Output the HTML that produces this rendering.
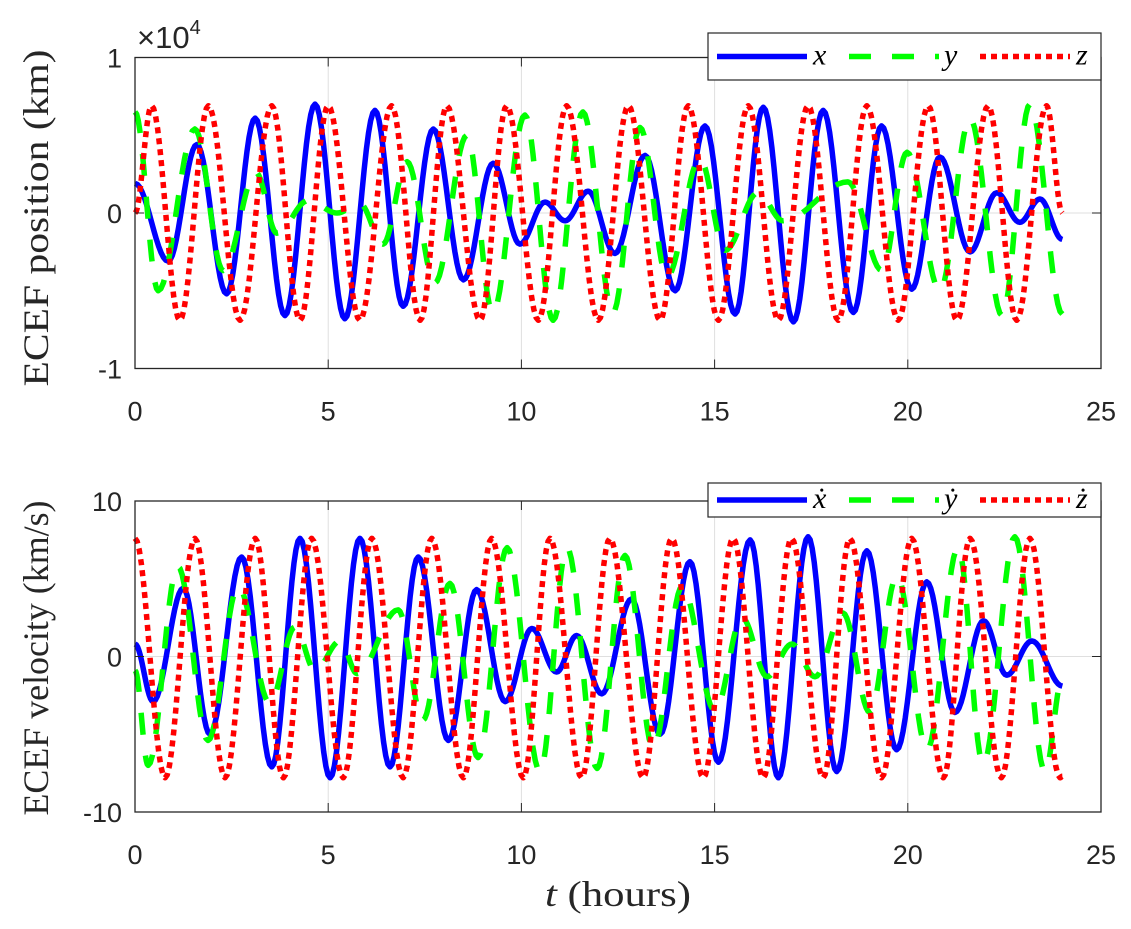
<!DOCTYPE html>
<html><head><meta charset="utf-8">
<style>
html,body{margin:0;padding:0;background:#fff;}
svg{display:block;}
.tk{font-family:"Liberation Sans",sans-serif;font-size:27px;fill:#262626;}
.lbl{font-family:"Liberation Serif",serif;font-size:36px;fill:#262626;}
.leg{font-family:"Liberation Serif",serif;font-style:italic;font-size:30px;fill:#000;}
</style></head>
<body>
<svg id="chart" width="1131" height="929" viewBox="0 0 1131 929" xmlns="http://www.w3.org/2000/svg">
  <g id="g-top"></g>
  <g id="g-bot"></g>
  <text x="137" y="48" style="font-family:'Liberation Sans',sans-serif;font-size:31px;fill:#262626">×10<tspan dy="-14" style="font-size:20px">4</tspan></text>
  <text class="lbl" transform="translate(48,218) rotate(-90)" text-anchor="middle" textLength="337" lengthAdjust="spacingAndGlyphs">ECEF position (km)</text>
  <text class="lbl" transform="translate(48,658) rotate(-90)" text-anchor="middle" textLength="315" lengthAdjust="spacingAndGlyphs">ECEF velocity (km/s)</text>
  <text class="lbl" x="618" y="906" text-anchor="middle" textLength="146" lengthAdjust="spacingAndGlyphs"><tspan font-style="italic">t</tspan> (hours)</text>
</svg>
<script>
// ---- data: position (units of 1e4 km), extrema ----
const posXT = [0,0.86,1.60,2.37,3.11,3.88,4.66,5.43,6.21,6.94,7.72,8.50,9.27,9.96,10.61,11.13,11.73,12.42,13.20,13.98,14.75,15.53,16.26,17.04,17.81,18.59,19.32,20.10,20.83,21.61,22.30,22.90,23.42,24.0];
const posXV = [0.19,-0.31,0.44,-0.52,0.61,-0.66,0.70,-0.68,0.66,-0.60,0.54,-0.43,0.32,-0.20,0.07,-0.05,0.14,-0.26,0.37,-0.50,0.56,-0.65,0.68,-0.70,0.66,-0.64,0.56,-0.49,0.36,-0.25,0.13,-0.06,0.09,-0.17];
const posYT = [0,0.60,1.55,2.28,3.13,3.67,4.48,5.23,5.82,6.42,7.04,7.76,8.59,9.26,10.09,10.82,11.59,12.37,13.07,13.77,14.62,15.27,16.12,16.77,18.45,19.33,19.98,20.83,21.61,22.44,23.16,24.0];
const posYV = [0.65,-0.50,0.54,-0.37,0.26,-0.13,0.08,0.0,0.06,-0.20,0.33,-0.45,0.50,-0.64,0.63,-0.69,0.65,-0.64,0.55,-0.41,0.35,-0.24,0.13,-0.05,0.20,-0.37,0.39,-0.50,0.61,-0.66,0.70,-0.65];
const posZT = [0,0.43,1.16,1.90,2.72,3.54,4.27,5.00,5.82,6.64,7.38,8.07,8.93,9.62,10.44,11.17,11.99,12.77,13.59,14.32,15.10,15.87,16.65,17.42,18.20,18.94,19.75,20.53,21.27,22.08,22.82,23.59,24.0];
const posZV = [0,0.69,-0.69,0.69,-0.69,0.69,-0.69,0.69,-0.69,0.69,-0.69,0.69,-0.69,0.69,-0.69,0.69,-0.69,0.69,-0.69,0.69,-0.69,0.69,-0.69,0.69,-0.69,0.69,-0.69,0.69,-0.69,0.69,-0.69,0.69,0];
// ---- data: velocity (km/s) ----
const velXT = [0,0.47,1.25,1.94,2.76,3.54,4.27,5.05,5.82,6.60,7.33,8.11,8.84,9.58,10.27,10.91,11.43,12.08,12.85,13.59,14.36,15.10,15.92,16.65,17.42,18.16,18.94,19.71,20.49,21.22,21.96,22.56,23.21,24.0];
const velXV = [0.8,-2.9,4.4,-5.0,6.4,-7.1,7.6,-7.8,7.6,-7.1,6.4,-5.4,4.3,-2.9,1.8,-1.0,1.35,-2.4,3.7,-5.0,6.1,-6.8,7.5,-7.8,7.7,-7.4,6.8,-6.0,4.8,-3.6,2.3,-1.2,1.0,-1.9];
const velYT = [0,0.34,1.11,1.89,2.67,3.49,4.14,4.66,5.31,5.75,6.81,7.45,8.15,8.88,9.63,10.48,11.18,11.96,12.68,13.41,14.16,15.01,15.71,16.36,17.00,17.60,18.32,19.02,19.72,20.50,21.30,21.95,22.77,23.55,24.0];
const velYV = [-0.9,-7.0,5.8,-5.4,4.5,-3.0,1.9,-0.9,1.0,-1.1,3.0,-4.1,4.7,-6.5,7.0,-7.4,7.0,-7.2,6.5,-5.9,4.5,-3.5,2.5,-1.3,0.8,-1.3,2.8,-3.6,5.2,-6.0,7.0,-6.9,7.7,-7.4,-1.4];
const velZT = [0,0.78,1.55,2.33,3.11,3.84,4.57,5.39,6.13,6.94,7.68,8.50,9.23,10.05,10.74,11.56,12.29,13.15,13.89,14.71,15.48,16.26,16.99,17.81,18.50,19.32,20.10,20.92,21.61,22.42,23.16,23.94,24.0];
const velZV = [7.6,-7.8,7.6,-7.8,7.6,-7.8,7.6,-7.8,7.6,-7.8,7.6,-7.8,7.6,-7.8,7.6,-7.8,7.6,-7.8,7.6,-7.8,7.6,-7.8,7.6,-7.8,7.6,-7.8,7.6,-7.8,7.6,-7.8,7.6,-7.8,-7.7];
const xTicks = [0,5,10,15,20,25];
const posTicks = [1,0,-1];
const posTickLabels = ["1","0","-1"];
const velTicks = [10,0,-10];
const velTickLabels = ["10","0","-10"];

const NS = "http://www.w3.org/2000/svg";
const L = 135, R = 1101;
function xs(t){ return L + (t/25)*(R-L); }
const TOP = {y0:57.5, y1:368.5, min:-1, max:1};
const BOT = {y0:501, y1:812, min:-10, max:10};
function ysF(ax){ return v => ax.y1 - (v-ax.min)/(ax.max-ax.min)*(ax.y1-ax.y0); }

function mk(tag, attrs, parent){
  const e = document.createElementNS(NS, tag);
  for (const k in attrs) e.setAttribute(k, attrs[k]);
  parent.appendChild(e); return e;
}
function curve(T, V, ys){
  let d = "M" + xs(T[0]).toFixed(2) + "," + ys(V[0]).toFixed(2);
  for (let i=0;i<T.length-1;i++){
    for (let s=1;s<=14;s++){
      const f = s/14, w = (1-Math.cos(Math.PI*f))/2;
      const t = T[i] + (T[i+1]-T[i])*f, v = V[i] + (V[i+1]-V[i])*w;
      d += " L" + xs(t).toFixed(2) + "," + ys(v).toFixed(2);
    }
  }
  return d;
}

function drawAxes(g, ax, ticks, tickLabels, series, legLabels, legY, isTop){
  const ys = ysF(ax);
  mk("rect",{x:L,y:ax.y0,width:R-L,height:ax.y1-ax.y0,fill:"#fff"},g);
  xTicks.forEach(t=>{
    const ln = mk("line",{x1:xs(t),x2:xs(t),y1:ax.y0,y2:ax.y1,stroke:"#dfdfdf","stroke-width":1},g);
    
    
  });
  ticks.forEach(v=>{
    const ln = mk("line",{x1:L,x2:R,y1:ys(v),y2:ys(v),stroke:"#dfdfdf","stroke-width":1},g);
    
    
  });
  const styles = [
    {stroke:"#0000ff","stroke-width":5.5},
    {stroke:"#00ff00","stroke-width":5.5,"stroke-dasharray":"22 21"},
    {stroke:"#ff0000","stroke-width":5.5,"stroke-dasharray":"6 5"}
  ];
  const names = ["x","y","z"];
  series.forEach((s,i)=>{
    const p = mk("path",Object.assign({d:curve(s[0],s[1],ys),fill:"none","stroke-linejoin":"round"},styles[i]),g);
    
    
  });
  mk("rect",{x:L,y:ax.y0,width:R-L,height:ax.y1-ax.y0,fill:"none",stroke:"#262626","stroke-width":1.3},g);
  xTicks.forEach(t=>{
    mk("line",{x1:xs(t),x2:xs(t),y1:ax.y1,y2:ax.y1-9,stroke:"#262626","stroke-width":1},g);
    mk("line",{x1:xs(t),x2:xs(t),y1:ax.y0,y2:ax.y0+9,stroke:"#262626","stroke-width":1},g);
    const tx = mk("text",{x:xs(t),y:ax.y1+52,"text-anchor":"middle",class:"tk"},g);
    
    
    tx.textContent = String(t);
  });
  ticks.forEach((v,i)=>{
    mk("line",{x1:L,x2:L+9,y1:ys(v),y2:ys(v),stroke:"#262626","stroke-width":1},g);
    mk("line",{x1:R,x2:R-9,y1:ys(v),y2:ys(v),stroke:"#262626","stroke-width":1},g);
    const tx = mk("text",{x:L-13,y:ys(v)+10,"text-anchor":"end",class:"tk"},g);
    
    
    tx.textContent = tickLabels[i];
  });
  const lg = mk("g",{},g);
  
  
  const h = isTop?47:34, ly = legY;
  mk("rect",{x:708,y:ly,width:393,height:h,fill:"#fff",stroke:"#262626","stroke-width":1.2},lg);
  const cy = ly + h/2;
  const segs = [[717,807,813],[849,939,944],[980,1070,1076]];
  segs.forEach((s,i)=>{
    mk("line",Object.assign({x1:s[0],x2:s[1],y1:cy,y2:cy,fill:"none"},styles[i]),lg);
    const tx = mk("text",{x:s[2],y:cy+8,class:"leg"},lg);
    
    
    tx.textContent = legLabels[i];
  });
}

drawAxes(document.getElementById("g-top"), TOP, posTicks, posTickLabels,
  [[posXT,posXV],[posYT,posYV],[posZT,posZV]], ["x","y","z"], 33, true);
drawAxes(document.getElementById("g-bot"), BOT, velTicks, velTickLabels,
  [[velXT,velXV],[velYT,velYV],[velZT,velZV]], ["ẋ","ẏ","ż"], 483, false);
</script>
</body></html>
